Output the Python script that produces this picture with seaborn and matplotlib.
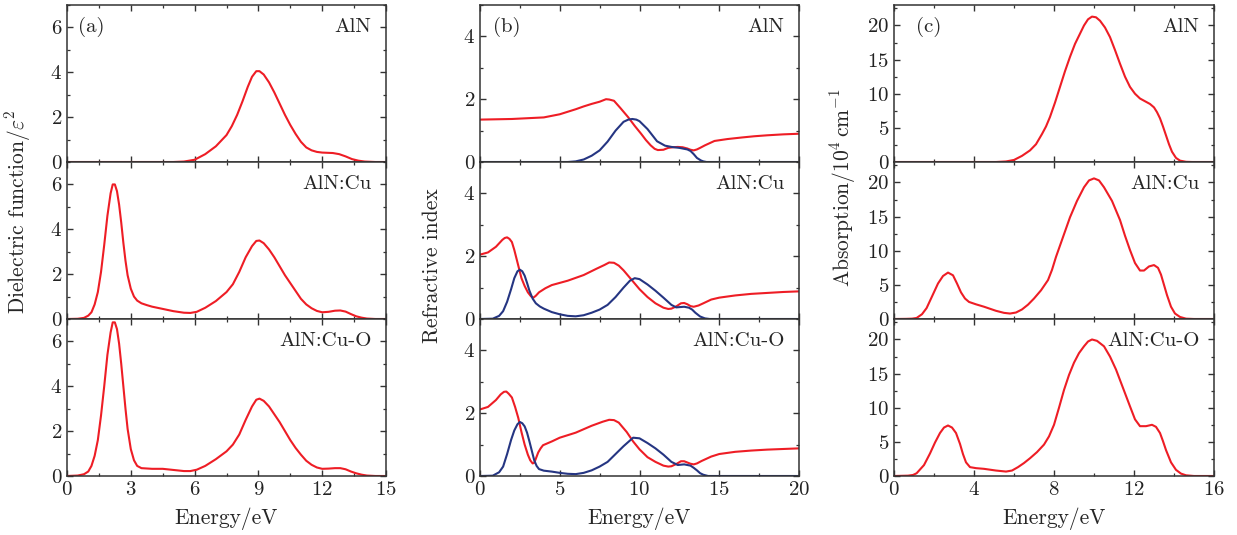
import numpy as np
import pandas as pd
import matplotlib
matplotlib.use("Agg")
import matplotlib.pyplot as plt
from matplotlib.ticker import MultipleLocator
import seaborn as sns

# ---------------- data ----------------
samples = ["AlN", "AlN:Cu", "AlN:Cu-O"]

# (a) imaginary part of dielectric function
eps_aln_e = [0, 2, 4, 5, 5.5, 6, 6.5, 7, 7.5, 7.75, 8, 8.25, 8.5, 8.7, 8.9, 9.05, 9.25, 9.5, 9.75, 10, 10.25, 10.5, 10.75, 11, 11.25, 11.5, 11.75, 12, 12.5, 12.8, 13.1, 13.4, 13.7, 14, 14.5, 15]
eps_aln_v = [0, 0, 0, 0, 0.02, 0.1, 0.35, 0.7, 1.2, 1.6, 2.1, 2.7, 3.35, 3.8, 4.05, 4.05, 3.9, 3.55, 3.1, 2.6, 2.1, 1.65, 1.25, 0.9, 0.65, 0.52, 0.45, 0.42, 0.4, 0.35, 0.25, 0.13, 0.06, 0.02, 0, 0]

eps_cu_e = [0, 0.5, 0.8, 1.0, 1.15, 1.3, 1.45, 1.6, 1.75, 1.9, 2.05, 2.15, 2.25, 2.35, 2.45, 2.55, 2.65, 2.75, 2.85, 3.0, 3.15, 3.3, 3.5, 3.75, 4.0, 4.5, 5.0, 5.5, 5.8, 6.1, 6.5, 7.0, 7.5, 7.8, 8.1, 8.4, 8.7, 8.9, 9.05, 9.25, 9.5, 9.75, 10.0, 10.25, 10.5, 10.75, 11.0, 11.25, 11.5, 11.75, 12.0, 12.3, 12.6, 12.85, 13.1, 13.35, 13.6, 13.85, 14.1, 14.5, 15]
eps_cu_v = [0, 0.01, 0.05, 0.15, 0.3, 0.65, 1.2, 2.1, 3.3, 4.6, 5.6, 6.0, 6.0, 5.7, 5.1, 4.3, 3.4, 2.6, 1.95, 1.35, 1.0, 0.82, 0.7, 0.62, 0.55, 0.45, 0.35, 0.28, 0.27, 0.32, 0.5, 0.8, 1.2, 1.55, 2.1, 2.75, 3.25, 3.48, 3.5, 3.38, 3.1, 2.75, 2.35, 1.95, 1.6, 1.25, 0.9, 0.65, 0.48, 0.36, 0.3, 0.32, 0.37, 0.38, 0.33, 0.22, 0.12, 0.06, 0.02, 0, 0]

eps_cuo_e = [0, 0.5, 0.8, 1.0, 1.15, 1.3, 1.45, 1.6, 1.75, 1.9, 2.05, 2.15, 2.25, 2.35, 2.45, 2.55, 2.65, 2.75, 2.85, 3.0, 3.15, 3.3, 3.5, 4.0, 4.5, 5.0, 5.5, 5.8, 6.1, 6.5, 7.0, 7.5, 7.8, 8.1, 8.4, 8.7, 8.9, 9.05, 9.25, 9.5, 9.75, 10.0, 10.25, 10.5, 10.75, 11.0, 11.25, 11.5, 11.75, 12.0, 12.3, 12.6, 12.85, 13.1, 13.35, 13.6, 13.85, 14.1, 14.5, 15]
eps_cuo_v = [0, 0.02, 0.08, 0.2, 0.45, 0.9, 1.6, 2.7, 4.0, 5.4, 6.4, 6.85, 6.85, 6.55, 5.9, 5.0, 4.0, 3.0, 2.1, 1.2, 0.7, 0.45, 0.35, 0.32, 0.32, 0.27, 0.22, 0.22, 0.28, 0.45, 0.75, 1.1, 1.4, 1.85, 2.5, 3.1, 3.4, 3.45, 3.35, 3.1, 2.75, 2.4, 2.0, 1.6, 1.25, 0.95, 0.68, 0.5, 0.38, 0.32, 0.33, 0.35, 0.35, 0.3, 0.2, 0.12, 0.06, 0.02, 0, 0]

# (b) refractive index n (red) and extinction coefficient k (blue)
n_aln_e = [0, 2, 4, 5, 6, 6.5, 7, 7.5, 7.7, 7.9, 8.1, 8.4, 8.8, 9.3, 9.7, 10.1, 10.4, 10.7, 10.95, 11.15, 11.5, 11.8, 12.1, 12.4, 12.7, 13.0, 13.2, 13.4, 13.6, 13.8, 14.1, 14.4, 14.7, 15.1, 15.5, 16.4, 17.2, 18, 19, 20]
n_aln_v = [1.35, 1.37, 1.42, 1.52, 1.68, 1.77, 1.85, 1.92, 1.96, 2.0, 1.99, 1.95, 1.72, 1.42, 1.15, 0.9, 0.7, 0.53, 0.42, 0.38, 0.39, 0.45, 0.47, 0.48, 0.47, 0.43, 0.39, 0.37, 0.4, 0.45, 0.53, 0.6, 0.67, 0.7, 0.73, 0.78, 0.82, 0.85, 0.88, 0.9]
k_aln_e = [0, 4, 5.5, 6.0, 6.5, 7.0, 7.5, 8.0, 8.5, 9.0, 9.3, 9.55, 9.8, 10.0, 10.5, 11.1, 11.6, 12.0, 12.5, 13.0, 13.2, 13.4, 13.6, 13.85, 14.0, 14.2, 20]
k_aln_v = [0, 0, 0, 0.02, 0.08, 0.2, 0.37, 0.65, 1.0, 1.28, 1.35, 1.37, 1.35, 1.3, 1.05, 0.66, 0.52, 0.48, 0.45, 0.4, 0.35, 0.25, 0.13, 0.05, 0.02, 0, 0]

n_cu_e = [0, 0.5, 1.0, 1.4, 1.55, 1.7, 1.85, 2.0, 2.15, 2.3, 2.45, 2.6, 2.8, 3.0, 3.2, 3.35, 3.5, 3.7, 4.1, 4.5, 5.5, 6.5, 7.3, 7.8, 8.1, 8.4, 8.7, 9.0, 9.5, 10.0, 10.5, 11.0, 11.5, 11.8, 12.0, 12.3, 12.6, 12.8, 13.0, 13.2, 13.4, 13.7, 14.0, 14.5, 15, 16, 17, 18, 19, 20]
n_cu_v = [2.05, 2.12, 2.3, 2.52, 2.58, 2.6, 2.55, 2.45, 2.2, 1.9, 1.6, 1.3, 1.05, 0.85, 0.72, 0.68, 0.74, 0.85, 0.98, 1.08, 1.22, 1.4, 1.6, 1.72, 1.8, 1.79, 1.7, 1.55, 1.25, 0.95, 0.7, 0.5, 0.36, 0.32, 0.33, 0.4, 0.5, 0.51, 0.47, 0.41, 0.39, 0.43, 0.5, 0.62, 0.68, 0.75, 0.8, 0.83, 0.86, 0.88]
k_cu_e = [0, 0.8, 1.2, 1.45, 1.7, 1.95, 2.15, 2.35, 2.5, 2.65, 2.8, 2.95, 3.1, 3.3, 3.5, 3.75, 4.0, 4.5, 5.0, 5.5, 6.0, 6.5, 7.0, 7.5, 8.0, 8.5, 9.0, 9.4, 9.7, 10.0, 10.5, 11.0, 11.5, 12.0, 12.3, 12.8, 13.1, 13.3, 13.5, 13.8, 14.1, 14.4, 20]
k_cu_v = [0, 0.01, 0.1, 0.25, 0.55, 0.95, 1.3, 1.52, 1.57, 1.52, 1.38, 1.15, 0.9, 0.65, 0.5, 0.4, 0.33, 0.22, 0.15, 0.1, 0.085, 0.12, 0.2, 0.3, 0.45, 0.7, 1.0, 1.22, 1.3, 1.27, 1.1, 0.9, 0.68, 0.45, 0.37, 0.39, 0.36, 0.3, 0.2, 0.08, 0.02, 0, 0]

n_cuo_e = [0, 0.5, 1.0, 1.3, 1.5, 1.65, 1.8, 2.0, 2.2, 2.4, 2.6, 2.8, 3.0, 3.15, 3.3, 3.4, 3.5, 3.65, 3.8, 3.95, 4.5, 5.0, 6.0, 7.0, 7.7, 8.1, 8.4, 8.7, 9.2, 9.6, 10.0, 10.5, 11.0, 11.5, 11.8, 12.0, 12.3, 12.6, 12.8, 13.0, 13.2, 13.4, 13.6, 13.9, 14.5, 15, 16, 17, 18, 19, 20]
n_cuo_v = [2.12, 2.2, 2.42, 2.6, 2.68, 2.69, 2.62, 2.5, 2.2, 1.85, 1.4, 1.0, 0.68, 0.5, 0.4, 0.42, 0.55, 0.75, 0.88, 0.98, 1.1, 1.22, 1.38, 1.6, 1.73, 1.79, 1.78, 1.7, 1.4, 1.1, 0.85, 0.6, 0.45, 0.33, 0.3, 0.31, 0.38, 0.47, 0.47, 0.43, 0.39, 0.37, 0.4, 0.48, 0.62, 0.7, 0.77, 0.81, 0.84, 0.86, 0.88]
k_cuo_e = [0, 0.8, 1.2, 1.45, 1.7, 1.95, 2.15, 2.35, 2.5, 2.65, 2.8, 2.95, 3.1, 3.25, 3.4, 3.55, 3.7, 4.0, 4.5, 5.0, 5.5, 6.0, 6.5, 7.0, 7.5, 8.0, 8.5, 9.0, 9.6, 10.0, 10.5, 11.0, 11.5, 12.0, 12.4, 12.8, 13.2, 13.4, 13.6, 13.8, 14.0, 14.3, 20]
k_cuo_v = [0, 0.01, 0.12, 0.3, 0.7, 1.15, 1.45, 1.65, 1.72, 1.68, 1.58, 1.38, 1.1, 0.8, 0.5, 0.32, 0.22, 0.17, 0.14, 0.1, 0.07, 0.06, 0.1, 0.18, 0.3, 0.45, 0.7, 0.95, 1.22, 1.2, 1.05, 0.88, 0.68, 0.45, 0.35, 0.37, 0.33, 0.26, 0.18, 0.09, 0.04, 0, 0]

# (c) absorption coefficient, 10^4 cm^-1
abs_aln_e = [0, 4, 5.1, 5.6, 6.0, 6.4, 6.8, 7.1, 7.4, 7.6, 7.8, 8.05, 8.3, 8.55, 8.8, 9.05, 9.3, 9.5, 9.7, 9.9, 10.1, 10.3, 10.55, 10.8, 11.05, 11.3, 11.55, 11.8, 12.05, 12.3, 12.55, 12.8, 13.0, 13.15, 13.3, 13.45, 13.6, 13.75, 13.9, 14.1, 14.3, 14.6, 14.9, 16]
abs_aln_v = [0, 0, 0, 0.08, 0.3, 0.9, 1.7, 2.6, 4.1, 5.2, 6.6, 8.7, 11.0, 13.3, 15.4, 17.3, 18.8, 20.0, 20.9, 21.3, 21.2, 20.7, 19.7, 18.3, 16.4, 14.4, 12.5, 11.0, 10.0, 9.3, 8.9, 8.5, 8.0, 7.3, 6.4, 5.2, 3.9, 2.6, 1.5, 0.6, 0.2, 0.03, 0, 0]

abs_cu_e = [0, 0.6, 0.9, 1.13, 1.4, 1.63, 1.9, 2.2, 2.45, 2.7, 2.95, 3.15, 3.35, 3.55, 3.75, 4.1, 4.5, 5.1, 5.5, 5.8, 6.1, 6.4, 6.7, 7.0, 7.35, 7.7, 7.9, 8.1, 8.45, 8.8, 9.15, 9.5, 9.75, 10.0, 10.25, 10.5, 10.9, 11.3, 11.55, 11.8, 12.05, 12.3, 12.5, 12.75, 13.0, 13.2, 13.35, 13.5, 13.65, 13.85, 14.05, 14.3, 14.6, 15, 16]
abs_cu_v = [0, 0.02, 0.05, 0.15, 0.7, 1.6, 3.3, 5.2, 6.3, 6.8, 6.4, 5.2, 3.9, 3.0, 2.5, 2.15, 1.8, 1.2, 0.9, 0.8, 0.95, 1.4, 2.1, 3.0, 4.2, 5.7, 7.2, 9.1, 12.0, 14.9, 17.3, 19.3, 20.3, 20.6, 20.3, 19.3, 17.3, 14.5, 12.2, 10.1, 8.2, 7.1, 7.1, 7.7, 7.9, 7.5, 6.5, 5.0, 3.5, 1.8, 0.8, 0.3, 0.05, 0, 0]

abs_cuo_e = [0, 0.7, 0.95, 1.13, 1.5, 1.8, 2.05, 2.3, 2.5, 2.7, 2.9, 3.1, 3.3, 3.45, 3.6, 3.8, 4.1, 4.5, 5.1, 5.6, 5.9, 6.2, 6.5, 6.8, 7.15, 7.5, 7.75, 8.0, 8.25, 8.5, 8.75, 9.0, 9.25, 9.5, 9.7, 9.9, 10.15, 10.5, 10.8, 11.1, 11.45, 11.8, 12.05, 12.3, 12.6, 12.9, 13.1, 13.3, 13.45, 13.6, 13.85, 14.1, 14.35, 14.6, 15, 16]
abs_cuo_v = [0, 0.05, 0.15, 0.4, 1.6, 3.3, 4.9, 6.3, 7.1, 7.4, 7.1, 6.3, 4.7, 3.2, 2.0, 1.3, 1.15, 1.05, 0.8, 0.65, 0.8, 1.3, 1.9, 2.6, 3.5, 4.6, 5.8, 7.5, 10.0, 12.6, 14.8, 16.6, 18.0, 19.0, 19.7, 20.0, 19.8, 19.0, 17.5, 15.6, 12.9, 10.2, 8.3, 7.3, 7.3, 7.5, 7.2, 6.3, 5.1, 3.8, 2.0, 0.9, 0.35, 0.1, 0, 0]

# ---------------- style ----------------
sns.set_theme(style="ticks")
plt.rcParams.update({
    "font.family": "cmr10",
    "mathtext.fontset": "cm",
    "axes.unicode_minus": False,
    "axes.formatter.use_mathtext": True,
    "font.size": 15,
    "axes.edgecolor": "#333333",
    "axes.linewidth": 1.1,
    "xtick.direction": "in",
    "ytick.direction": "in",
    "xtick.top": True,
    "ytick.right": True,
    "xtick.major.size": 4.5,
    "ytick.major.size": 4.5,
    "xtick.minor.size": 2.5,
    "ytick.minor.size": 2.5,
    "xtick.major.width": 1.0,
    "ytick.major.width": 1.0,
    "xtick.minor.width": 0.9,
    "ytick.minor.width": 0.9,
    "xtick.color": "#333333",
    "ytick.color": "#333333",
    "xtick.labelcolor": "#222222",
    "ytick.labelcolor": "#222222",
    "xtick.labelsize": 15,
    "ytick.labelsize": 15,
})

RED = "#ee1d25"
BLUE = "#253582"
W, H = 1237, 535
fig = plt.figure(figsize=(W / 100, H / 100), dpi=100)

top_px, bot_px = 5, 476
row_h = (bot_px - top_px) / 3
col_px = [(67, 386), (480, 799), (894, 1214)]

panels = [
    dict(letter="(a)", xlim=(0, 15), ylim=(0, 7), xmaj=3, xmin=1.5, ymaj=2, ymin=1,
         curves=[[(eps_aln_e, eps_aln_v, RED)],
                 [(eps_cu_e, eps_cu_v, RED)],
                 [(eps_cuo_e, eps_cuo_v, RED)]],
         ylabel=r"Dielectric function/$\varepsilon^2$", ylab_x=18, ylab_y=212, lx=0.035),
    dict(letter="(b)", xlim=(0, 20), ylim=(0, 5), xmaj=5, xmin=2.5, ymaj=2, ymin=1,
         curves=[[(n_aln_e, n_aln_v, RED), (k_aln_e, k_aln_v, BLUE)],
                 [(n_cu_e, n_cu_v, RED), (k_cu_e, k_cu_v, BLUE)],
                 [(n_cuo_e, n_cuo_v, RED), (k_cuo_e, k_cuo_v, BLUE)]],
         ylabel="Refractive index", ylab_x=432, ylab_y=266, lx=0.04),
    dict(letter="(c)", xlim=(0, 16), ylim=(0, 23), xmaj=4, xmin=2, ymaj=5, ymin=2.5,
         curves=[[(abs_aln_e, abs_aln_v, RED)],
                 [(abs_cu_e, abs_cu_v, RED)],
                 [(abs_cuo_e, abs_cuo_v, RED)]],
         ylabel=r"Absorption/$10^4\,$cm$^{-1}$", ylab_x=843, ylab_y=188, lx=0.07),
]

for p, (x0, x1) in zip(panels, col_px):
    for r in range(3):
        y_top = top_px + r * row_h
        ax = fig.add_axes([x0 / W, 1 - (y_top + row_h) / H, (x1 - x0) / W, row_h / H])
        for xs, ys, c in p["curves"][r]:
            df = pd.DataFrame({"E": xs, "v": ys})
            sns.lineplot(data=df, x="E", y="v", ax=ax, color=c, lw=1.5,
                         estimator=None, sort=False)
        ax.set_xlim(*p["xlim"])
        ax.set_ylim(*p["ylim"])
        ax.xaxis.set_major_locator(MultipleLocator(p["xmaj"]))
        ax.xaxis.set_minor_locator(MultipleLocator(p["xmin"]))
        ax.yaxis.set_major_locator(MultipleLocator(p["ymaj"]))
        ax.yaxis.set_minor_locator(MultipleLocator(p["ymin"]))
        ax.tick_params(which="both", top=True, right=True)
        ax.set_xlabel("")
        ax.set_ylabel("")
        if r < 2:
            ax.tick_params(axis="x", labelbottom=False)
        else:
            ax.set_xlabel("Energy/eV", fontsize=15.5, labelpad=6)
        ax.text(0.955, 0.86, samples[r], transform=ax.transAxes,
                ha="right", va="center", fontsize=15)
        if r == 0:
            ax.text(p["lx"], 0.86, p["letter"], transform=ax.transAxes,
                    ha="left", va="center", fontsize=15)
    fig.text(p["ylab_x"] / W, 1 - p["ylab_y"] / H, p["ylabel"], rotation=90,
             ha="center", va="center", fontsize=15.5)

fig.savefig("out.png", dpi=100)
